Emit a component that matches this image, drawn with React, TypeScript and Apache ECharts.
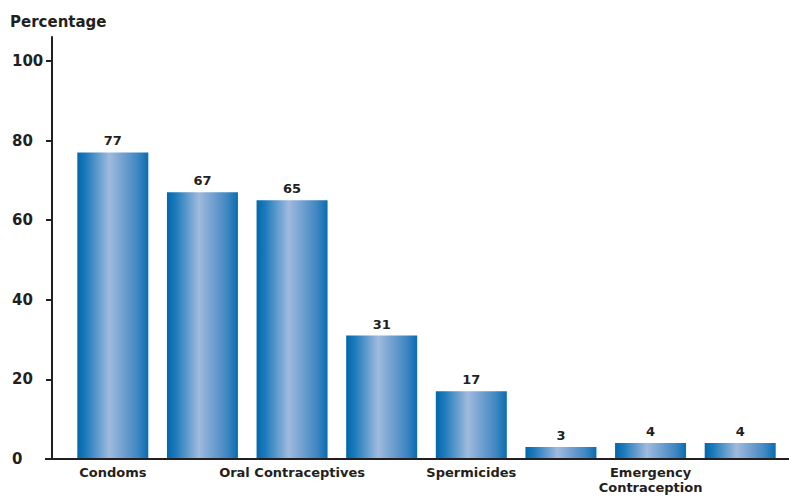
import React, { useEffect, useRef } from "react";
import * as echarts from "echarts";

const categories = ["Condoms", "", "Oral Contraceptives", "", "Spermicides", "", "Emergency\nContraception", ""];
const values = [77, 67, 65, 31, 17, 3, 4, 4];
const yTicks = [0, 20, 40, 60, 80, 100];
const yTitle = "Percentage";

const FONT = "DejaVu Sans";
const INK = "#231f20";

export default function App() {
  const ref = useRef<HTMLDivElement>(null);
  useEffect(() => {
    if (!ref.current) return;
    const chart = echarts.init(ref.current, null, { renderer: "svg" });
    const grad = new echarts.graphic.LinearGradient(0, 0, 1, 0, [
      { offset: 0, color: "#0068ac" },
      { offset: 0.12, color: "#1c7abb" },
      { offset: 0.45, color: "#a0badd" },
      { offset: 0.85, color: "#3f86c2" },
      { offset: 1, color: "#0a6db0" },
    ]);
    chart.setOption({
      animation: false,
      backgroundColor: "#ffffff",
      textStyle: { fontFamily: FONT },
      grid: { left: 68, right: 4, top: 37, bottom: 39, containLabel: false, outerBoundsMode: "none" },
      graphic: [
        {
          type: "text",
          left: 10,
          top: 14,
          style: { text: yTitle, font: `bold 15px '${FONT}'`, fill: INK },
        },
        {
          type: "line",
          z: 100,
          shape: { x1: 45, y1: 459, x2: 789, y2: 459 },
          style: { stroke: INK, lineWidth: 2 },
        },
      ],
      xAxis: {
        type: "category",
        data: categories,
        axisLine: { show: true, lineStyle: { color: INK, width: 2 } },
        axisTick: { show: false },
        axisLabel: {
          interval: 0,
          color: INK,
          fontWeight: "bold",
          fontSize: 13,
          fontFamily: FONT,
          margin: 6,
          lineHeight: 15,
        },
      },
      yAxis: {
        type: "value",
        min: 0,
        max: 106,
        offset: 16,
        splitLine: { show: false },
        axisLine: { show: true, lineStyle: { color: INK, width: 2 } },
        axisTick: { show: true, length: 6, lineStyle: { color: INK, width: 2 }, customValues: yTicks },
        axisLabel: {
          color: INK,
          fontWeight: "bold",
          fontSize: 15,
          fontFamily: FONT,
          margin: 40,
          align: "left",
          padding: [3, 0, 0, 0],
          customValues: yTicks,
        },
      },
      series: [
        {
          type: "bar",
          data: values,
          barWidth: 71,
          itemStyle: { color: grad },
          label: {
            show: true,
            position: "top",
            distance: 5,
            color: INK,
            fontWeight: "bold",
            fontSize: 13,
            fontFamily: FONT,
          },
        },
      ],
    });
    return () => chart.dispose();
  }, []);
  return <div ref={ref} style={{ width: 789, height: 498, position: "fixed", left: 0, top: 0 }} />;
}
